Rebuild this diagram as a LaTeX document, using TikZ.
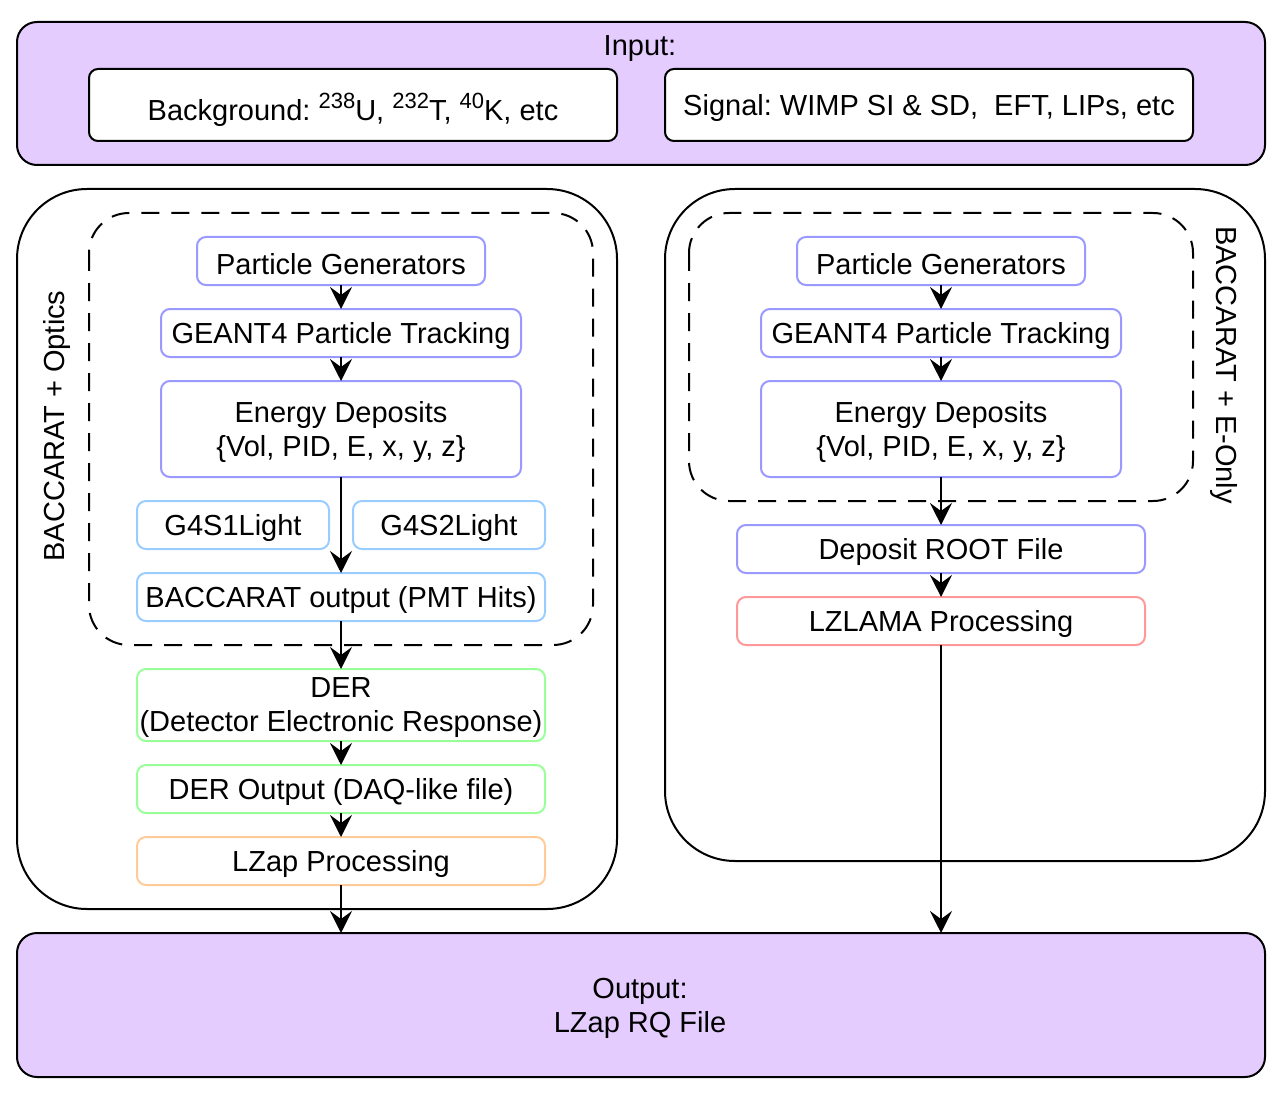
\documentclass[tikz,border=0pt]{standalone}
\usepackage{fontspec}
\setmainfont{Liberation Sans}
\usetikzlibrary{arrows.meta}
\definecolor{lav}{HTML}{E5CCFF}
\definecolor{cpurple}{HTML}{9999FF}
\definecolor{cblue}{HTML}{99CCFF}
\definecolor{cgreen}{HTML}{99FF99}
\definecolor{corange}{HTML}{FFCC99}
\definecolor{cred}{HTML}{FF9999}
\frenchspacing
\newcommand{\isot}[1]{\raisebox{0.42em}{\fontsize{22}{22}\selectfont #1}}
\tikzset{
  txt/.style={font=\fontsize{29}{34}\selectfont, align=center, inner sep=0pt, yshift=-3pt},
  bigbox/.style={draw=black, line width=2pt, fill=lav, rounded corners=20pt},
  cont/.style={draw=black, line width=2pt, rounded corners=70pt},
  dashbox/.style={draw=black, line width=2pt, dash pattern=on 18pt off 12pt, rounded corners=40pt},
  inbox/.style={draw=black, line width=2pt, fill=white, rounded corners=9pt},
  pbox/.style={draw=cpurple, line width=2pt, rounded corners=9pt},
  bbox/.style={draw=cblue, line width=2pt, rounded corners=9pt},
  gbox/.style={draw=cgreen, line width=2pt, rounded corners=9pt},
  obox/.style={draw=corange, line width=2pt, rounded corners=9pt},
  rbox/.style={draw=cred, line width=2pt, rounded corners=9pt},
  arr/.style={draw=black, line width=2pt, -{Stealth[length=22pt, width=22pt, inset=8pt]}}
}
\begin{document}
\begin{tikzpicture}[x=1pt, y=-1pt]
\useasboundingbox (0,0) rectangle (1287,1099);
% Input
\draw[bigbox] (17,22) rectangle (1265,165);
\node[txt] (inlab) at (640,46) {Input:};
\draw[inbox] (89,69) rectangle (617,141);
\node[txt] (bg) at (353,107) {Background: \isot{238}U, \isot{232}T, \isot{40}K, etc};
\draw[inbox] (665,69) rectangle (1193,141);
\node[txt] (sig) at (929,105) {Signal: WIMP SI \& SD,\ \ EFT, LIPs, etc};
% containers
\draw[cont] (17,189) rectangle (617,909);
\draw[cont] (665,189) rectangle (1265,861);
\draw[dashbox] (89,213) rectangle (593,645);
\draw[dashbox] (689,213) rectangle (1193,501);
\node[txt, rotate=90, yshift=3pt] (labL) at (60,423) {BACCARAT + Optics};
\node[txt, rotate=-90, yshift=3pt] (labR) at (1221,362) {BACCARAT + E-Only};
% left column
\draw[pbox] (197,237) rectangle (485,285);
\node[txt] (pgL) at (341,261) {Particle Generators};
\draw[pbox] (161,309) rectangle (521,357);
\node[txt] (g4L) at (341,333) {GEANT4 Particle Tracking};
\draw[pbox] (161,381) rectangle (521,477);
\node[txt] (edL) at (341,429) {Energy Deposits\\\{Vol, PID, E, x, y, z\}};
\draw[bbox] (137,501) rectangle (329,549);
\node[txt] (s1) at (233,525) {G4S1Light};
\draw[bbox] (353,501) rectangle (545,549);
\node[txt] (s2) at (449,525) {G4S2Light};
\draw[bbox] (137,573) rectangle (545,621);
\node[txt] (bo) at (341,597) {BACCARAT output (PMT Hits)};
\draw[gbox] (137,669) rectangle (545,741);
\node[txt] (der) at (341,705) {DER\\(Detector Electronic Response)};
\draw[gbox] (137,765) rectangle (545,813);
\node[txt] (dero) at (341,789) {DER Output (DAQ-like file)};
\draw[obox] (137,837) rectangle (545,885);
\node[txt] (lzap) at (341,861) {LZap Processing};
% right column
\draw[pbox] (797,237) rectangle (1085,285);
\node[txt] (pgR) at (941,261) {Particle Generators};
\draw[pbox] (761,309) rectangle (1121,357);
\node[txt] (g4R) at (941,333) {GEANT4 Particle Tracking};
\draw[pbox] (761,381) rectangle (1121,477);
\node[txt] (edR) at (941,429) {Energy Deposits\\\{Vol, PID, E, x, y, z\}};
\draw[pbox] (737,525) rectangle (1145,573);
\node[txt] (dep) at (941,549) {Deposit ROOT File};
\draw[rbox] (737,597) rectangle (1145,645);
\node[txt] (lzl) at (941,621) {LZLAMA Processing};
% output
\draw[bigbox] (17,933) rectangle (1265,1077);
\node[txt] (out) at (640,1005) {Output:\\LZap RQ File};
% coordinates
\coordinate (a1) at (341,285); \coordinate (a2) at (341,309);
\coordinate (a3) at (341,357); \coordinate (a4) at (341,381);
\coordinate (a5) at (341,477); \coordinate (a6) at (341,573);
\coordinate (a7) at (341,621); \coordinate (a8) at (341,669);
\coordinate (a9) at (341,741); \coordinate (a10) at (341,765);
\coordinate (a11) at (341,813); \coordinate (a12) at (341,837);
\coordinate (a13) at (341,885); \coordinate (a14) at (341,933);
\coordinate (b1) at (941,285); \coordinate (b2) at (941,309);
\coordinate (b3) at (941,357); \coordinate (b4) at (941,381);
\coordinate (b5) at (941,477); \coordinate (b6) at (941,525);
\coordinate (b7) at (941,573); \coordinate (b8) at (941,597);
\coordinate (b9) at (941,645); \coordinate (b10) at (941,933);
\draw[arr] (a1) -- (a2);
\draw[arr] (a3) -- (a4);
\draw[arr] (a5) -- (a6);
\draw[arr] (a7) -- (a8);
\draw[arr] (a9) -- (a10);
\draw[arr] (a11) -- (a12);
\draw[arr] (a13) -- (a14);
\draw[arr] (b1) -- (b2);
\draw[arr] (b3) -- (b4);
\draw[arr] (b5) -- (b6);
\draw[arr] (b7) -- (b8);
\draw[arr] (b9) -- (b10);
\end{tikzpicture}
\end{document}
